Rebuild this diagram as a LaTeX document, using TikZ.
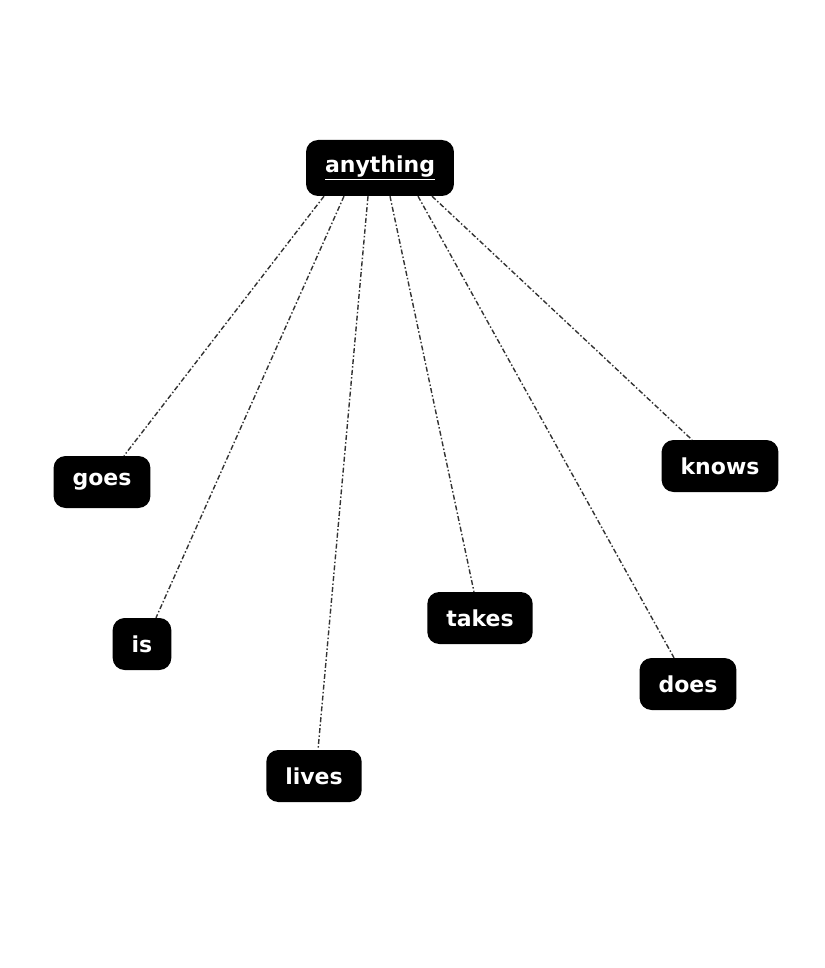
\documentclass[tikz,border=0pt]{standalone}
\usepackage{fontspec}
\setmainfont{DejaVu Sans}
\begin{document}
\begin{tikzpicture}[x=1pt,y=1pt,
  word/.style={fill=black, text=white, rounded corners=12pt, font=\fontsize{22}{26}\selectfont\bfseries,
    inner xsep=19pt, inner ysep=0pt, minimum height=52pt},
  link/.style={draw=black!80, line width=1.4pt, dash pattern=on 5pt off 2.2pt on 1.5pt off 2.2pt}]
\useasboundingbox (0,0) rectangle (824,-968);
\node[word, minimum height=56pt] (anything) at (380,-168) {\underline{anything}};
\node[word] (goes) at (102,-482) {goes};
\node[word] (is) at (142,-644) {is};
\node[word] (lives) at (314,-776) {lives};
\node[word] (takes) at (480,-618) {takes};
\node[word] (does) at (688,-684) {does};
\node[word] (knows) at (720,-466) {knows};
\draw[link] ([xshift=-56pt]anything.south) -- ([xshift=22pt]goes.north);
\draw[link] ([xshift=-36pt]anything.south) -- ([xshift=14pt]is.north);
\draw[link] ([xshift=-12pt]anything.south) -- ([xshift=4pt]lives.north);
\draw[link] ([xshift=10pt]anything.south) -- ([xshift=-6pt]takes.north);
\draw[link] ([xshift=38pt]anything.south) -- ([xshift=-14pt]does.north);
\draw[link] ([xshift=52pt]anything.south) -- ([xshift=-28pt]knows.north);
\end{tikzpicture}
\end{document}
